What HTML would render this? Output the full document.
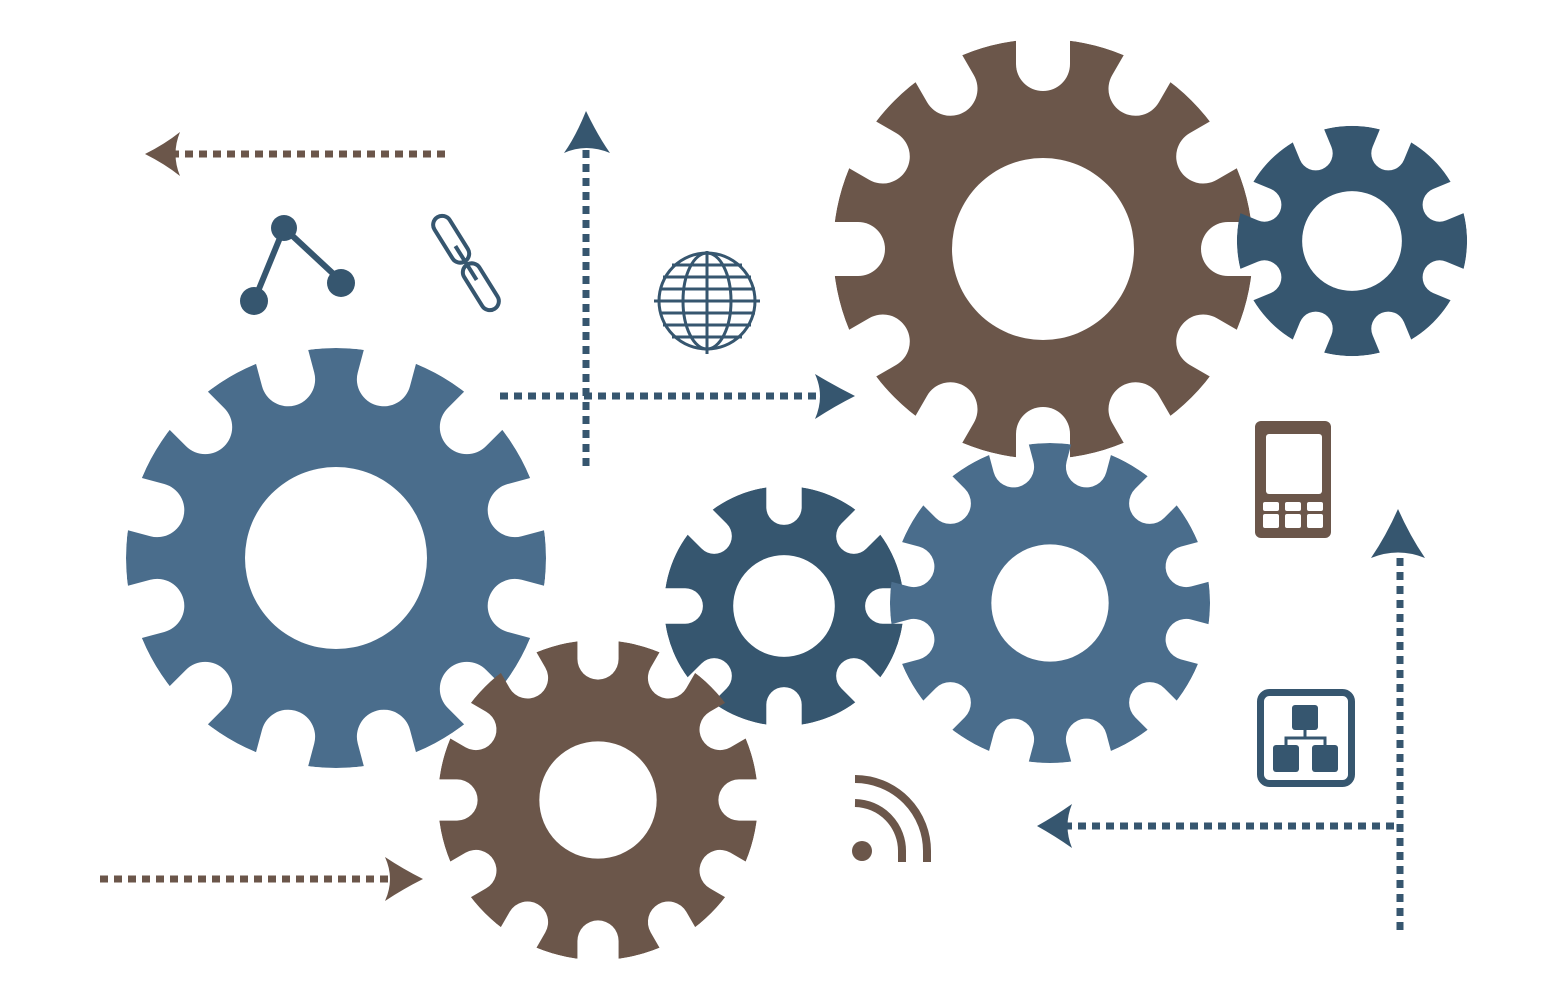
<!DOCTYPE html>
<html><head><meta charset="utf-8"><style>html,body{margin:0;padding:0;background:#fff}svg{display:block}</style></head>
<body>
<svg width="1564" height="1000" viewBox="0 0 1564 1000" xmlns="http://www.w3.org/2000/svg">
<defs>
<rect id="n12" x="-27" y="-240" width="54" height="82" rx="27" fill="#000"/>
<rect id="n8" x="-31" y="-250" width="62" height="108" rx="31" fill="#000"/>
<mask id="m12a" maskUnits="userSpaceOnUse" x="-300" y="-300" width="600" height="600">
<circle r="210" fill="#fff"/>
<g><use href="#n12" transform="rotate(15)"/><use href="#n12" transform="rotate(45)"/><use href="#n12" transform="rotate(75)"/><use href="#n12" transform="rotate(105)"/><use href="#n12" transform="rotate(135)"/><use href="#n12" transform="rotate(165)"/><use href="#n12" transform="rotate(195)"/><use href="#n12" transform="rotate(225)"/><use href="#n12" transform="rotate(255)"/><use href="#n12" transform="rotate(285)"/><use href="#n12" transform="rotate(315)"/><use href="#n12" transform="rotate(345)"/></g>
</mask>
<mask id="m12b" maskUnits="userSpaceOnUse" x="-300" y="-300" width="600" height="600">
<circle r="210" fill="#fff"/>
<g><use href="#n12" transform="rotate(0)"/><use href="#n12" transform="rotate(30)"/><use href="#n12" transform="rotate(60)"/><use href="#n12" transform="rotate(90)"/><use href="#n12" transform="rotate(120)"/><use href="#n12" transform="rotate(150)"/><use href="#n12" transform="rotate(180)"/><use href="#n12" transform="rotate(210)"/><use href="#n12" transform="rotate(240)"/><use href="#n12" transform="rotate(270)"/><use href="#n12" transform="rotate(300)"/><use href="#n12" transform="rotate(330)"/></g>
</mask>
<mask id="m8a" maskUnits="userSpaceOnUse" x="-300" y="-300" width="600" height="600">
<circle r="210" fill="#fff"/>
<g><use href="#n8" transform="rotate(22.5)"/><use href="#n8" transform="rotate(67.5)"/><use href="#n8" transform="rotate(112.5)"/><use href="#n8" transform="rotate(157.5)"/><use href="#n8" transform="rotate(202.5)"/><use href="#n8" transform="rotate(247.5)"/><use href="#n8" transform="rotate(292.5)"/><use href="#n8" transform="rotate(337.5)"/></g>
</mask>
<mask id="m8b" maskUnits="userSpaceOnUse" x="-300" y="-300" width="600" height="600">
<circle r="210" fill="#fff"/>
<g><use href="#n8" transform="rotate(0)"/><use href="#n8" transform="rotate(45)"/><use href="#n8" transform="rotate(90)"/><use href="#n8" transform="rotate(135)"/><use href="#n8" transform="rotate(180)"/><use href="#n8" transform="rotate(225)"/><use href="#n8" transform="rotate(270)"/><use href="#n8" transform="rotate(315)"/></g>
</mask>
</defs>

<!-- gears -->
<g transform="translate(336,558)"><circle r="210" fill="#4a6d8c" mask="url(#m12a)"/><circle r="91" fill="#fff"/></g>
<g transform="translate(1043,249)"><circle r="210" fill="#6b564a" mask="url(#m12b)"/><circle r="91" fill="#fff"/></g>
<g transform="translate(1352,241) scale(0.548)"><circle r="210" fill="#36566f" mask="url(#m8a)"/><circle r="91" fill="#fff"/></g>
<g transform="translate(784,606) scale(0.571)"><circle r="210" fill="#36566f" mask="url(#m8b)"/><circle r="89" fill="#fff"/></g>
<g transform="translate(1050,603) scale(0.762)"><circle r="210" fill="#4a6d8c" mask="url(#m12a)"/><circle r="77" fill="#fff"/></g>
<g transform="translate(598,800) scale(0.762)"><circle r="210" fill="#6b564a" mask="url(#m12b)"/><circle r="77" fill="#fff"/></g>

<!-- dashed arrows -->
<g stroke-width="7" fill="none" stroke-dasharray="8 6">
<line x1="445" y1="154" x2="172" y2="154" stroke="#6b564a"/>
<line x1="586" y1="466" x2="586" y2="148" stroke="#36566f"/>
<line x1="500" y1="396" x2="822" y2="396" stroke="#36566f"/>
<line x1="100" y1="879" x2="390" y2="879" stroke="#6b564a"/>
<line x1="1400" y1="930" x2="1400" y2="552" stroke="#36566f"/>
<line x1="1394" y1="826" x2="1066" y2="826" stroke="#36566f"/>
</g>
<path d="M145,154 Q165,144 180,132 Q171,154 180,176 Q165,164 145,154Z" fill="#6b564a"/>
<path d="M586,111 Q598,136 610,153 Q586,143 564,153 Q576,136 586,111Z" fill="#36566f"/>
<path d="M855,396 Q835,386 815,374 Q825,396 815,419 Q835,406 855,396Z" fill="#36566f"/>
<path d="M423,879 Q403,869 385,857 Q395,879 385,901 Q403,889 423,879Z" fill="#6b564a"/>
<path d="M1398,509 Q1410,536 1425,558 Q1398,547 1371,558 Q1386,536 1398,509Z" fill="#36566f"/>
<path d="M1037,826 Q1055,816 1072,804 Q1063,826 1072,848 Q1055,836 1037,826Z" fill="#36566f"/>

<!-- graph icon -->
<g fill="#36566f" stroke="#36566f" stroke-width="6">
<line x1="284" y1="228" x2="341" y2="281"/><line x1="284" y1="228" x2="254" y2="301"/>
<circle cx="284" cy="228" r="13" stroke="none"/><circle cx="341" cy="283" r="14" stroke="none"/><circle cx="254" cy="301" r="14" stroke="none"/>
</g>
<!-- chain link -->
<g fill="none" stroke="#36566f" stroke-width="4" transform="translate(466,263) rotate(-32)">
<rect x="-9" y="-54" width="18" height="52" rx="9"/>
<rect x="-9" y="2" width="18" height="52" rx="9"/>
<line x1="0" y1="-20" x2="0" y2="20"/>
</g>
<!-- globe -->
<g fill="none" stroke="#36566f" stroke-width="3">
<circle cx="707" cy="301" r="48"/>
<ellipse cx="707" cy="301" rx="24" ry="48"/>
<line x1="707" y1="251" x2="707" y2="354"/>
<line x1="654" y1="301" x2="760" y2="301"/>
<line x1="663" y1="277" x2="751" y2="277"/><line x1="660" y1="289" x2="755" y2="289"/>
<line x1="660" y1="313" x2="755" y2="313"/><line x1="663" y1="325" x2="751" y2="325"/>
<line x1="672" y1="265" x2="742" y2="265"/><line x1="672" y1="337" x2="742" y2="337"/>
</g>
<!-- phone -->
<rect x="1255" y="421" width="76" height="117" rx="6" fill="#6b564a"/>
<rect x="1266" y="434" width="56" height="60" rx="3" fill="#fff"/>
<g fill="#fff">
<rect x="1263" y="502" width="16" height="9" rx="2"/><rect x="1285" y="502" width="16" height="9" rx="2"/><rect x="1307" y="502" width="16" height="9" rx="2"/>
<rect x="1263" y="514" width="16" height="14" rx="2"/><rect x="1285" y="514" width="16" height="14" rx="2"/><rect x="1307" y="514" width="16" height="14" rx="2"/>
</g>
<!-- sitemap -->
<rect x="1260.5" y="692.5" width="91" height="91" rx="9" fill="none" stroke="#36566f" stroke-width="7"/>
<g fill="#36566f">
<rect x="1292" y="705" width="26" height="25" rx="3"/>
<rect x="1273" y="745" width="26" height="27" rx="3"/>
<rect x="1312" y="745" width="26" height="27" rx="3"/>
</g>
<g stroke="#36566f" stroke-width="3" fill="none"><path d="M1305,730 V738 M1286,745 V738 H1325 V745"/></g>
<!-- rss -->
<g fill="none" stroke="#6b564a" stroke-width="8">
<path d="M855,803 A48,48 0 0 1 902,852 V862"/>
<path d="M855,779 A72,72 0 0 1 927,852 V862"/>
</g>
<circle cx="862" cy="851" r="10" fill="#6b564a"/>
</svg>
</body></html>
